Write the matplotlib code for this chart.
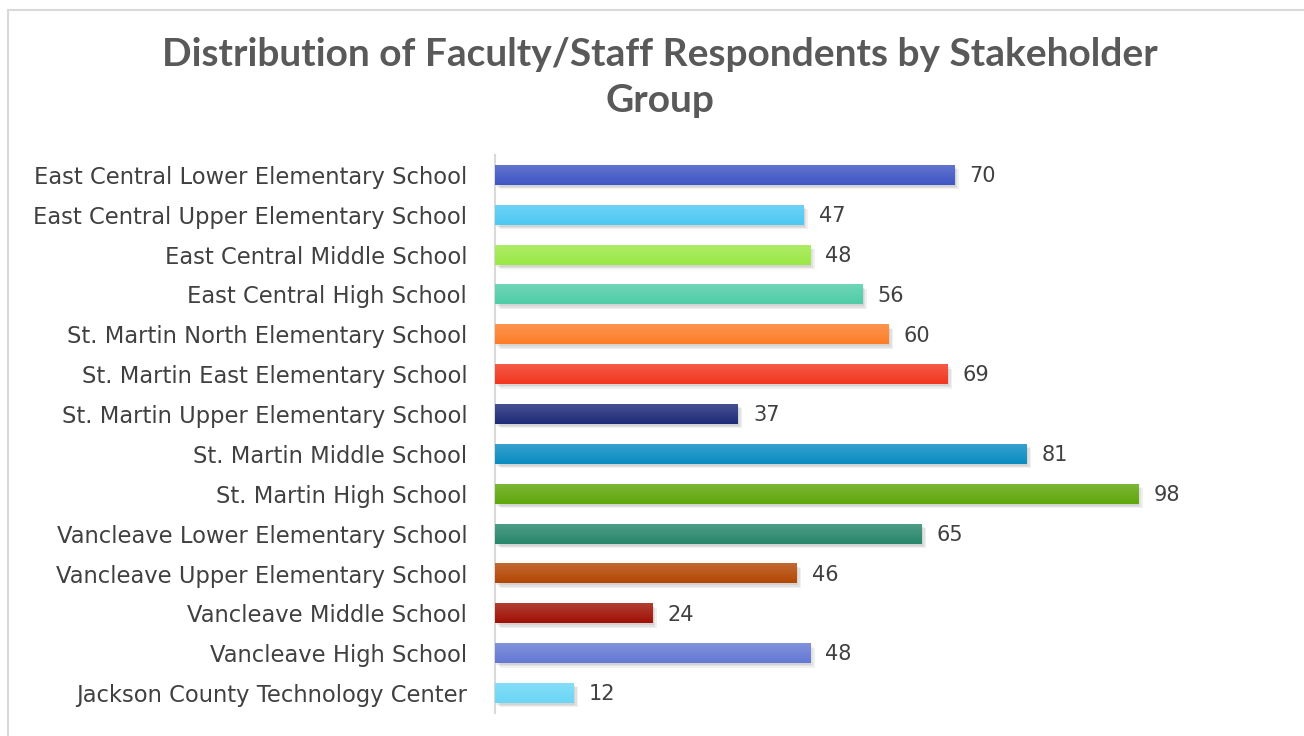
import numpy as np
import matplotlib.pyplot as plt
from matplotlib.patches import Rectangle
from matplotlib.colors import to_rgb

schools = [
    'East Central Lower Elementary School',
    'East Central Upper Elementary School',
    'East Central Middle School',
    'East Central High School',
    'St. Martin North Elementary School',
    'St. Martin East Elementary School',
    'St. Martin Upper Elementary School',
    'St. Martin Middle School',
    'St. Martin High School',
    'Vancleave Lower Elementary School',
    'Vancleave Upper Elementary School',
    'Vancleave Middle School',
    'Vancleave High School',
    'Jackson County Technology Center',
]
respondents = [70, 47, 48, 56, 60, 69, 37, 81, 98, 65, 46, 24, 48, 12]
colors = ['#3f55c4', '#4dc8f3', '#9be845', '#4fcca6', '#fc7d28', '#f2361f', '#1e2b78',
          '#0a8cc2', '#5fa70b', '#27876a', '#b44705', '#a01205', '#6579d4', '#6ad6f6']

plt.rcParams['font.family'] = ['DejaVu Sans']
text_col = '#404040'

fig = plt.figure(figsize=(13.04, 7.36), dpi=100)
W, H = 1304, 736
fig.patches.append(Rectangle((8 / W, -0.1), 1.2, 1 - 10 / H + 0.1, transform=fig.transFigure,
                             fill=False, edgecolor='#d9d9d9', linewidth=1.5))

ax = fig.add_axes([495 / W, 1 - 713 / H, 735 / W, 558 / H])

y = np.arange(len(schools))
bh = 0.5
# soft shadow
for k, a in enumerate([0.06, 0.06, 0.06]):
    ax.barh(y + 0.05 + 0.03 * k, respondents, height=bh, left=0.2 + 0.25 * k,
            color='#000000', alpha=a, zorder=1)
bars = ax.barh(y, respondents, height=bh, color=colors, zorder=2)

# vertical gradient on each bar
for b, c in zip(bars, colors):
    base = np.array(to_rgb(c))
    light = base + (1 - base) * 0.18
    grad = np.linspace(0, 1, 32)[:, None, None]
    img = light * (1 - grad) + base * grad
    x0, y0 = b.get_x(), b.get_y()
    ax.imshow(img, extent=(x0, x0 + b.get_width(), y0 + b.get_height(), y0),
              aspect='auto', zorder=3, interpolation='bilinear')
ax.set_xlim(0, 112)
ax.set_ylim(len(schools) - 0.5, -0.5)

for yi, v in zip(y, respondents):
    ax.text(v + 2.3, yi + 0.03, str(v), va='center', ha='left', fontsize=15, color=text_col)

ax.set_yticks(y)
ax.set_yticklabels(schools, fontsize=16.3, color=text_col)
ax.tick_params(axis='y', length=0, pad=20)
ax.set_xticks([])
for s in ['top', 'right', 'bottom']:
    ax.spines[s].set_visible(False)
ax.spines['left'].set_color('#d9d9d9')
ax.spines['left'].set_linewidth(1.5)

title_kw = dict(ha='center', va='center', fontsize=28, fontweight='bold', color='#595959',
                family=['Lato', 'DejaVu Sans'])
fig.text(0.506, 1 - 55 / H, 'Distribution of Faculty/Staff Respondents by Stakeholder', **title_kw)
fig.text(0.506, 1 - 101 / H, 'Group', **title_kw)

fig.savefig('out.png', dpi=100)
